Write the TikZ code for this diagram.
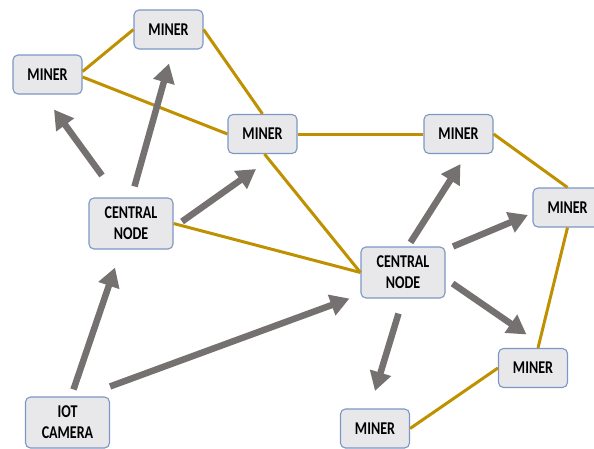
\documentclass[tikz,border=0pt]{standalone}
\usepackage{fontspec}
\newfontfamily\boxfont[FakeStretch=0.78]{Carlito}
\usetikzlibrary{arrows.meta}

\definecolor{boxfill}{HTML}{E8E8EB}
\definecolor{boxline}{HTML}{7D96C4}
\definecolor{linkgold}{HTML}{BF9000}
\definecolor{flowgray}{HTML}{767171}

\tikzset{
  box/.style={draw=boxline, fill=boxfill, line width=1.1pt, rounded corners=5pt,
    inner sep=0pt, align=center, text=black,
    font=\boxfont\bfseries\fontsize{18}{21}\selectfont},
  miner/.style={box, minimum width=69pt, minimum height=39pt},
  hub/.style={box, minimum width=84pt, minimum height=51pt},
  link/.style={linkgold, line width=3pt},
  flow/.style={flowgray, line width=6.5pt, -{Triangle[length=19pt,width=21pt]}}
}

\begin{document}
\begin{tikzpicture}[x=1pt,y=-1pt]
\useasboundingbox (0,0) rectangle (594,448);

%central nodes and camera
\node[hub] (cl) at (131,223.5) {CENTRAL\\NODE};
\node[hub] (cr) at (403,272.5) {CENTRAL\\NODE};
\node[hub] (cam) at (67.5,422.5) {IOT\\CAMERA};

%miners
\node[miner] (tm) at (168.5,29.5) {MINER};
\node[miner] (lm) at (47.5,74.5) {MINER};
\node[miner] (mm) at (262.5,134) {MINER};
\node[miner] (rm) at (458.5,134) {MINER};
\node[miner] (fr) at (567.5,207.5) {MINER};
\node[miner] (br) at (533,368) {MINER};
\node[miner] (bm) at (375,428.5) {MINER};

%gold links between the nodes
\draw[link] ([shift={(0,-3)}]lm.east) -- (tm.west);
\draw[link] ([shift={(0,2.5)}]lm.east) -- (mm.west);
\draw[link] (tm.east) -- (mm.north);
\draw[link] (mm.east) -- (rm.west);
\draw[link] ([shift={(2,0)}]mm.south) -- (cr.west);
\draw[link] (cl.east) -- (cr.west);
\draw[link] (rm.east) -- (fr.north);
\draw[link] (fr.south) -- ([shift={(5,0)}]br.north);
\draw[link] (br.west) -- (bm.east);

%gray arrows, left central node
\draw[flow] ([shift={(-29,-22)}]cl.north) -- ([shift={(6.5,15)}]lm.south);
\draw[flow] ([shift={(3.5,-11)}]cl.north) -- ([shift={(0.5,14)}]tm.south);
\draw[flow] ([shift={(8.5,-2)}]cl.east) -- ([shift={(-6.5,15)}]mm.south);

%gray arrows, camera
\draw[flow] ([shift={(6,-7)}]cam.north) -- ([shift={(-16,18)}]cl.south);
\draw[flow] ([shift={(0,-10)}]cam.north east) -- ([shift={(-11,0)}]cr.south west);

%gray arrows, right central node
\draw[flow] ([shift={(7.5,-4)}]cr.north) -- ([shift={(2,10)}]rm.south);
\draw[flow] ([shift={(7.5,0)}]cr.north east) -- ([shift={(-4.5,7.5)}]fr.west);
\draw[flow] ([shift={(7,11)}]cr.east) -- ([shift={(-6.5,-13.5)}]br.north);
\draw[flow] ([shift={(-4.5,15)}]cr.south) -- ([shift={(0,-17.5)}]bm.north);
\end{tikzpicture}
\end{document}
